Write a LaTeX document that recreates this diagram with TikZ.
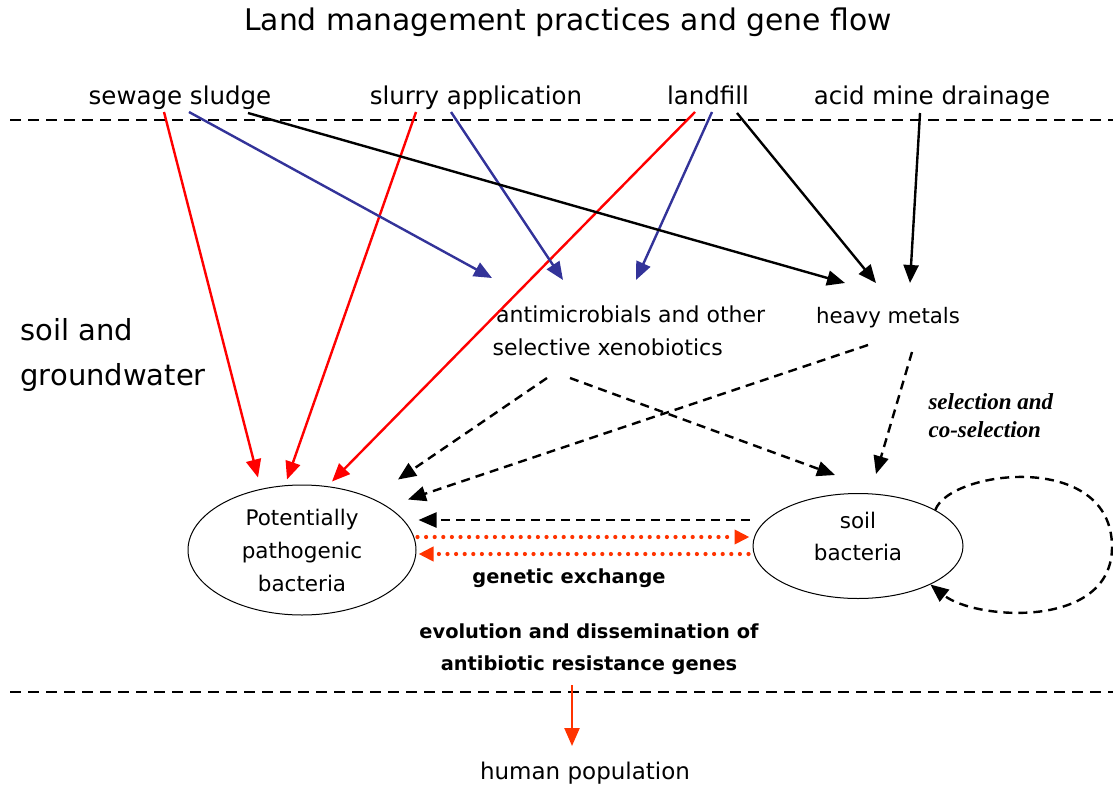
\documentclass[tikz,border=0pt]{standalone}
\usepackage{fontspec}
\setmainfont{DejaVu Sans}
\newfontfamily\timesfont{Liberation Serif}
\usetikzlibrary{calc,arrows.meta,shapes.geometric}

\definecolor{flowblue}{HTML}{333399}
\definecolor{flowred}{HTML}{FF0000}
\definecolor{generd}{HTML}{FF3300}

\begin{document}
\begin{tikzpicture}[x=1pt, y=-1pt,
  font=\fontsize{24.5}{28}\selectfont,
  tri/.style={-{Triangle[length=18pt,width=15pt]}},
  redflow/.style={tri, draw=flowred, line width=2.4pt},
  blueflow/.style={tri, draw=flowblue, fill=flowblue, line width=2.4pt},
  blackflow/.style={tri, line width=2.4pt},
  selflow/.style={tri, line width=2.4pt, dash pattern=on 9pt off 6pt},
  geneflow/.style={-{Triangle[length=15pt,width=14pt]}, draw=generd, line width=4.2pt,
    line cap=round, dash pattern=on 0pt off 8.6pt},
  border/.style={line width=1.8pt, dash pattern=on 11pt off 7pt},
  bug/.style={ellipse, draw, line width=1pt, align=center, inner sep=0pt},
  small/.style={align=left, font=\fontsize{22}{33}\selectfont},
  boldlab/.style={align=center, font=\fontsize{19.4}{32}\selectfont\bfseries}]
    \useasboundingbox (0,0) rectangle (1113,787);
    \node (title) at (568,22) {\fontsize{29.8}{32}\selectfont Land management practices and gene flow};
    \node[anchor=base] (sewage) at (180,104) {sewage sludge};
    \node[anchor=base] (slurry) at (476,104) {slurry application};
    \node[anchor=base] (landfill) at (708,104) {landfill};
    \node[anchor=base] (amd) at (932,104) {acid mine drainage};
    \node[anchor=west, align=left, font=\fontsize{29}{45}\selectfont] (soil) at (17,355) {soil and\\groundwater};
    \node[small, anchor=west] (anti) at (489,331) {\,antimicrobials and other\\selective xenobiotics};
    \node[font=\fontsize{21.3}{26}\selectfont] (metals) at (888,318) {heavy metals};
    \node[anchor=west, align=left, font=\fontsize{23}{28}\selectfont\timesfont\bfseries\itshape] (sel) at (925,416) {selection and\\co-selection};
    \node[bug, minimum width=228, minimum height=130, font=\fontsize{21.5}{33}\selectfont] (ppb) at (302,550) {Potentially\\pathogenic\\bacteria};
    \node[bug, minimum width=210, minimum height=105,
      label={[align=center, yshift=10pt, font=\fontsize{21.5}{32}\selectfont]center:soil\\bacteria}] (sb) at (858,546) {};
    \node[boldlab] (gx) at (569,578) {genetic exchange};
    \node[boldlab] (evo) at (589,649) {evolution and dissemination of\\antibiotic resistance genes};
    \node[font=\fontsize{23}{28}\selectfont] (human) at (585,773) {human population};
    %
    \draw[border] (10,120) -- (1113,120);
    \draw[border] (10,692) -- (1113,692);
    %
    \draw[redflow] ($(sewage.base)+(-16,8)$) -- ($(ppb.north)+(-44,-7)$);
    \draw[redflow] ($(slurry.base)+(-60,8)$) -- ($(ppb.north)+(-15,-5)$);
    \draw[redflow] ($(landfill.base)+(-13,8)$) -- ($(ppb.north)+(30,-3)$);
    %
    \draw[blueflow] ($(sewage.base)+(9,8)$) -- ($(anti.west)+(3,-53)$);
    \draw[blueflow] ($(slurry.base)+(-25,8)$) -- ($(anti.west)+(74,-51)$);
    \draw[blueflow] ($(landfill.base)+(4,8)$) -- ($(anti.west)+(147,-51)$);
    %
    \draw[blackflow] ($(sewage.base)+(68,9)$) -- ($(metals)+(-43,-35)$);
    \draw[blackflow] ($(landfill.base)+(29,9)$) -- ($(metals)+(-12,-35)$);
    \draw[blackflow] ($(amd.base)+(-12,9)$) -- ($(metals)+(22,-35)$);
    %
    \draw[selflow] ($(anti.west)+(58,47)$) -- ($(ppb.north)+(96,-5)$);
    \draw[selflow] ($(anti.west)+(81,47)$) -- ($(sb.north)+(-23,-18)$);
    \draw[selflow] ($(metals)+(-20,27)$) -- ($(ppb.north)+(106,15)$);
    \draw[selflow] ($(metals)+(24,34)$) -- ($(sb.north)+(18,-19)$);
    \draw[selflow] ($(sb.west)+(-3,-26)$) -- ($(ppb.east)+(2,-30)$);
    \draw[selflow] (sb.25) .. controls (950,470) and (1112,450) .. (1112,547)
      .. controls (1112,630) and (975,620) .. (sb.-28);
    %
    \draw[geneflow] ($(ppb.east)+(1,-13)$) -- ($(sb.west)+(-3,-9)$);
    \draw[geneflow] ($(sb.west)+(-4,8)$) -- ($(ppb.east)+(2,4)$);
    %
    \draw[tri, draw=generd, line width=2.4pt] ($(evo)+(-17,36)$) -- ($(human)+(-13,-27)$);
\end{tikzpicture}
\end{document}
